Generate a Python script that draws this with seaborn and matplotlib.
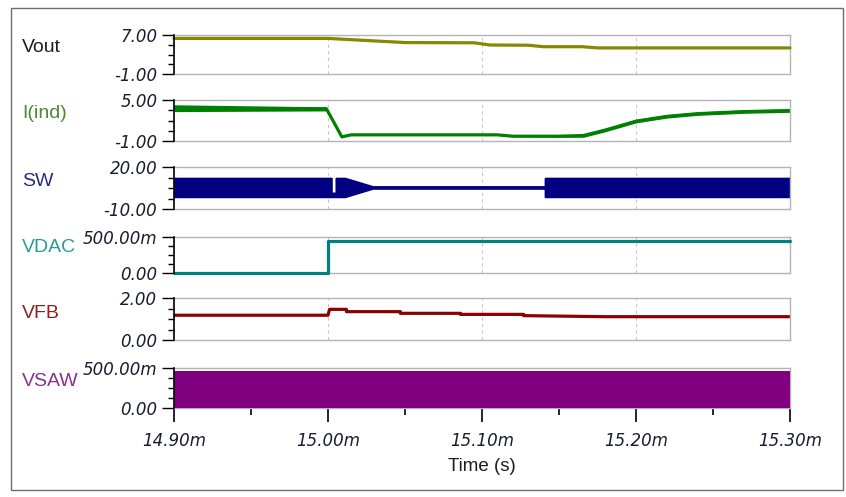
import matplotlib
matplotlib.use("Agg")
import matplotlib.pyplot as plt
import seaborn as sns
from matplotlib.ticker import AutoMinorLocator, FixedLocator, FixedFormatter, MultipleLocator
from matplotlib.patches import Rectangle

# === Data (time in ms) ===
signal_names = ["Vout", "I(ind)", "SW", "VDAC", "VFB", "VSAW"]
y_ranges = [(-1.0, 7.0), (-1.0, 5.0), (-10.0, 20.0), (0.0, 0.5), (0.0, 2.0), (0.0, 0.5)]
y_tick_labels = [["-1.00", "7.00"], ["-1.00", "5.00"], ["-10.00", "20.00"],
                 ["0.00", "500.00m"], ["0.00", "2.00"], ["0.00", "500.00m"]]
x_ticks = [14.90, 15.00, 15.10, 15.20, 15.30]
x_tick_labels = ["14.90m", "15.00m", "15.10m", "15.20m", "15.30m"]

t_vout = [14.90, 15.00, 15.05, 15.095, 15.105, 15.13, 15.14, 15.165, 15.175, 15.30]
vout = [6.3, 6.3, 5.45, 5.4, 4.95, 4.9, 4.6, 4.6, 4.35, 4.35]

t_ind = [14.90, 14.95, 14.999, 15.009, 15.015, 15.11, 15.12, 15.15, 15.166, 15.18, 15.20, 15.22, 15.24, 15.27, 15.30]
ind_mid = [3.8, 3.75, 3.7, -0.4, -0.1, -0.1, -0.3, -0.3, -0.2, 0.6, 1.9, 2.6, 3.0, 3.3, 3.45]
ind_hi = [4.3, 4.15, 4.0, -0.35, -0.05, -0.05, -0.25, -0.2, 0.0, 0.85, 2.15, 2.85, 3.25, 3.55, 3.7]
ind_lo = [3.3, 3.35, 3.4, -0.45, -0.15, -0.15, -0.35, -0.45, -0.45, 0.35, 1.65, 2.35, 2.75, 3.05, 3.2]

t_sw = [14.90, 15.0021, 15.0021, 15.0052, 15.0052, 15.011, 15.029, 15.141, 15.141, 15.30]
sw_hi = [12.0, 12.0, 1.4, 1.4, 12.0, 12.0, 6.0, 6.0, 12.0, 12.0]
sw_lo = [-1.2, -1.2, -1.2, -1.2, -1.2, -1.2, 4.8, 4.8, -1.2, -1.2]

t_vdac = [14.90, 15.00, 15.00, 15.30]
vdac = [0.0, 0.0, 0.45, 0.45]

t_vfb = [14.90, 15.00, 15.001, 15.012, 15.012, 15.047, 15.047, 15.086, 15.086, 15.127, 15.127, 15.18, 15.30]
vfb = [1.18, 1.18, 1.46, 1.46, 1.35, 1.35, 1.27, 1.27, 1.22, 1.22, 1.16, 1.11, 1.11]

t_vsaw = [14.90, 15.30]
vsaw_hi = [0.4625, 0.4625]
vsaw_lo = [0.0, 0.0]

trace_colors = ["#878700", "#008000", "#000080", "#008080", "#8b0000", "#800080"]
name_colors = ["#1e1e1e", "#4a8a32", "#2b2b7e", "#2a9a96", "#8e2020", "#8e2e8e"]

# === Layout (pixels of the 846x497 canvas) ===
W, H = 846, 497
panel_px = [(35, 74), (100, 141), (167, 209), (237, 273), (298, 340), (368, 408)]
name_y_px = [48, 114, 182, 248, 313, 381]
x_left, x_right = 174, 790

sns.set_style("white")
# tick labels: italic (DejaVu ships an oblique face); names use Liberation Sans
plt.rcParams["font.family"] = ["DejaVu Sans"]
plt.rcParams["font.style"] = "italic"
name_font = dict(family=["Liberation Sans", "DejaVu Sans"], style="normal")

fig = plt.figure(figsize=(W / 100, H / 100), dpi=100)
fig.patches.append(Rectangle((11 / W, 1 - 490 / H), (843 - 11) / W, (490 - 8) / H,
                             transform=fig.transFigure, fill=False,
                             edgecolor="#6e6e6e", linewidth=1.0))

tick_color = "#1c1c30"
tick_size = 12
axes = []
for i, (top, bot) in enumerate(panel_px):
    ax = fig.add_axes([x_left / W, 1 - bot / H, (x_right - x_left) / W, (bot - top) / H])
    axes.append(ax)
    fig.text(22 / W, 1 - name_y_px[i] / H, signal_names[i], color=name_colors[i],
             fontsize=14, ha="left", va="center", **name_font)

lw = 2.3

# Vout
sns.lineplot(x=t_vout, y=vout, ax=axes[0], color=trace_colors[0], linewidth=lw,
             estimator=None, sort=False, clip_on=False, zorder=3)
# I(ind)
axes[1].fill_between(t_ind, ind_lo, ind_hi, color=trace_colors[1], linewidth=0)
sns.lineplot(x=t_ind, y=ind_mid, ax=axes[1], color=trace_colors[1], linewidth=lw,
             estimator=None, sort=False)
# SW
axes[2].fill_between(t_sw, sw_lo, sw_hi, color=trace_colors[2], edgecolor=trace_colors[2],
                     linewidth=1.5)
# VDAC
sns.lineplot(x=t_vdac, y=vdac, ax=axes[3], color=trace_colors[3], linewidth=lw,
             estimator=None, sort=False, clip_on=False, zorder=3)
# VFB
sns.lineplot(x=t_vfb, y=vfb, ax=axes[4], color=trace_colors[4], linewidth=lw,
             estimator=None, sort=False)
# VSAW
axes[5].fill_between(t_vsaw, vsaw_lo, vsaw_hi, color=trace_colors[5], linewidth=0, zorder=3)

for i, ax in enumerate(axes):
    lo, hi = y_ranges[i]
    ax.set_xlim(14.90, 15.30)
    ax.set_ylim(lo, hi)
    ax.yaxis.set_major_locator(FixedLocator([lo, hi]))
    ax.yaxis.set_major_formatter(FixedFormatter(y_tick_labels[i]))
    ax.yaxis.set_minor_locator(AutoMinorLocator(4))
    ax.tick_params(axis="y", which="major", length=9, width=1, color="black", pad=3,
                   labelsize=tick_size, labelcolor=tick_color, direction="out", left=True)
    ax.tick_params(axis="y", which="minor", length=4, width=1, color="black",
                   direction="out", left=True)
    ax.spines["left"].set_color("black")
    ax.spines["left"].set_linewidth(1.2)
    ax.spines["left"].set_zorder(4)
    for s in ["top", "right", "bottom"]:
        ax.spines[s].set_color("#b4b4b4")
        ax.spines[s].set_linewidth(1.0)
    for xv in x_ticks[1:-1]:
        ax.axvline(xv, color="#c8c8c8", linestyle=(0, (3, 3)), linewidth=0.8, zorder=0)
    if i < 5:
        ax.set_xticks([])
    ax.set_xlabel("")
    ax.set_ylabel("")

bottom_ax = axes[5]
bottom_ax.xaxis.set_major_locator(FixedLocator(x_ticks))
bottom_ax.xaxis.set_major_formatter(FixedFormatter(x_tick_labels))
bottom_ax.xaxis.set_minor_locator(MultipleLocator(0.05))
bottom_ax.tick_params(axis="x", which="major", length=10, width=1.2, color="black",
                      labelsize=tick_size, labelcolor=tick_color, pad=7, bottom=True, direction="out")
bottom_ax.tick_params(axis="x", which="minor", length=5, width=1.2, color="black",
                      bottom=True, direction="out")
bottom_ax.set_xlabel("Time (s)", fontsize=13.5, color="#1e1e1e", labelpad=6, **name_font)

fig.savefig("out.png", dpi=100)
